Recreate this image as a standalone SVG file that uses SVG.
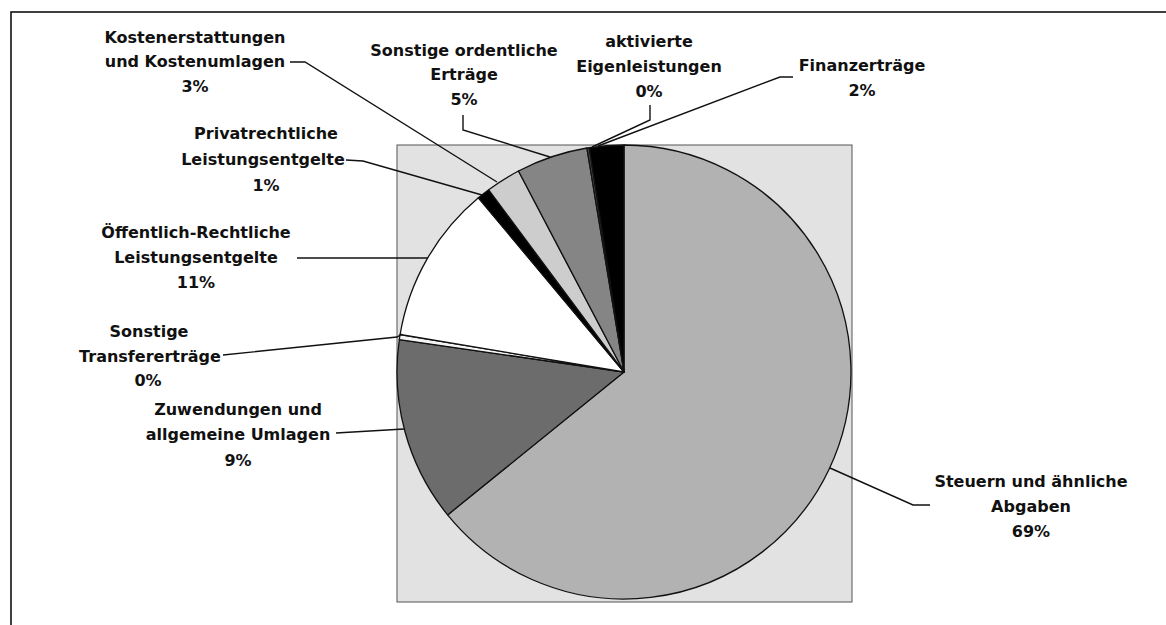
<svg xmlns="http://www.w3.org/2000/svg" width="1166" height="625" viewBox="0 0 1166 625">
<style>
.lbl{font-family:"DejaVu Sans",Verdana,sans-serif;font-weight:bold;font-size:16px;fill:#111;text-anchor:middle}
.sl{stroke:#111;stroke-width:1.3;stroke-linejoin:round}
.ld{fill:none;stroke:#111;stroke-width:1.4}
</style>
<rect x="11" y="12" width="1200" height="700" fill="#fff" stroke="#111" stroke-width="1.6"/>
<rect id="plot-area" x="397" y="145" width="455" height="457" fill="#e2e2e2" stroke="#555" stroke-width="1"/>
<g id="pie">
<g id="slice-steuern"><path class="sl" fill="#b2b2b2" d="M624,372 L624,145 A227,227 0 1 1 447.6,514.9 Z"/></g>
<g id="slice-zuwendungen"><path class="sl" fill="#6c6c6c" d="M624,372 L447.6,514.9 A227,227 0 0 1 399.3,339.6 Z"/></g>
<g id="slice-transfer"><path class="sl" fill="#f4f4f4" d="M624,372 L399.3,339.6 A227,227 0 0 1 400.1,334.5 Z"/></g>
<g id="slice-oeffentlich"><path class="sl" fill="#ffffff" d="M624,372 L400.1,334.5 A227,227 0 0 1 478.4,197.8 Z"/></g>
<g id="slice-privat"><path class="sl" fill="#000" d="M624,372 L478.4,197.8 A227,227 0 0 1 488.7,189.8 Z"/></g>
<g id="slice-kosten"><path class="sl" fill="#cdcdcd" d="M624,372 L488.7,189.8 A227,227 0 0 1 518.5,171.0 Z"/></g>
<g id="slice-sonstige-ord"><path class="sl" fill="#858585" d="M624,372 L518.5,171.0 A227,227 0 0 1 586.9,148.0 Z"/></g>
<g id="slice-aktivierte"><path class="sl" fill="#444" d="M624,372 L586.9,148.0 A227,227 0 0 1 589.3,147.7 Z"/></g>
<g id="slice-finanz"><path class="sl" fill="#000" d="M624,372 L589.3,147.7 A227,227 0 0 1 624,145 Z"/></g>
</g>
<g id="connectors">
<path class="ld" d="M290,62 L305,62 L497,182"/>
<path class="ld" d="M346,160 L363,161 L482,195"/>
<path class="ld" d="M463,115 L463,130 L550,157"/>
<path class="ld" d="M650,105 L650,120 L592,147"/>
<path class="ld" d="M793,77 L780,77 L598,146"/>
<path class="ld" d="M297,258 L428,258"/>
<path class="ld" d="M223,355 L397,337 L402,334"/>
<path class="ld" d="M336,433 L404,429"/>
<path class="ld" d="M830,468 L913,505 L930,505"/>
</g>
<g id="label-kosten"><text class="lbl" x="195" y="43">Kostenerstattungen</text><text class="lbl" x="195" y="67">und Kostenumlagen</text><text class="lbl" x="195" y="92">3%</text></g>
<g id="label-privat"><text class="lbl" x="266" y="139">Privatrechtliche</text><text class="lbl" x="263" y="165">Leistungsentgelte</text><text class="lbl" x="266" y="191">1%</text></g>
<g id="label-sonstige-ord"><text class="lbl" x="464" y="56">Sonstige ordentliche</text><text class="lbl" x="464" y="80">Erträge</text><text class="lbl" x="464" y="105">5%</text></g>
<g id="label-aktivierte"><text class="lbl" x="649" y="47">aktivierte</text><text class="lbl" x="649" y="72">Eigenleistungen</text><text class="lbl" x="649" y="97">0%</text></g>
<g id="label-finanz"><text class="lbl" x="862" y="71">Finanzerträge</text><text class="lbl" x="862" y="96">2%</text></g>
<g id="label-oeffentlich"><text class="lbl" x="196" y="238">Öffentlich-Rechtliche</text><text class="lbl" x="196" y="263">Leistungsentgelte</text><text class="lbl" x="196" y="288">11%</text></g>
<g id="label-transfer"><text class="lbl" x="149" y="337">Sonstige</text><text class="lbl" x="150" y="362">Transfererträge</text><text class="lbl" x="148" y="386">0%</text></g>
<g id="label-zuwendungen"><text class="lbl" x="238" y="415">Zuwendungen und</text><text class="lbl" x="238" y="440">allgemeine Umlagen</text><text class="lbl" x="238" y="466">9%</text></g>
<g id="label-steuern"><text class="lbl" x="1031" y="487">Steuern und ähnliche</text><text class="lbl" x="1031" y="512">Abgaben</text><text class="lbl" x="1031" y="537">69%</text></g>
</svg>
